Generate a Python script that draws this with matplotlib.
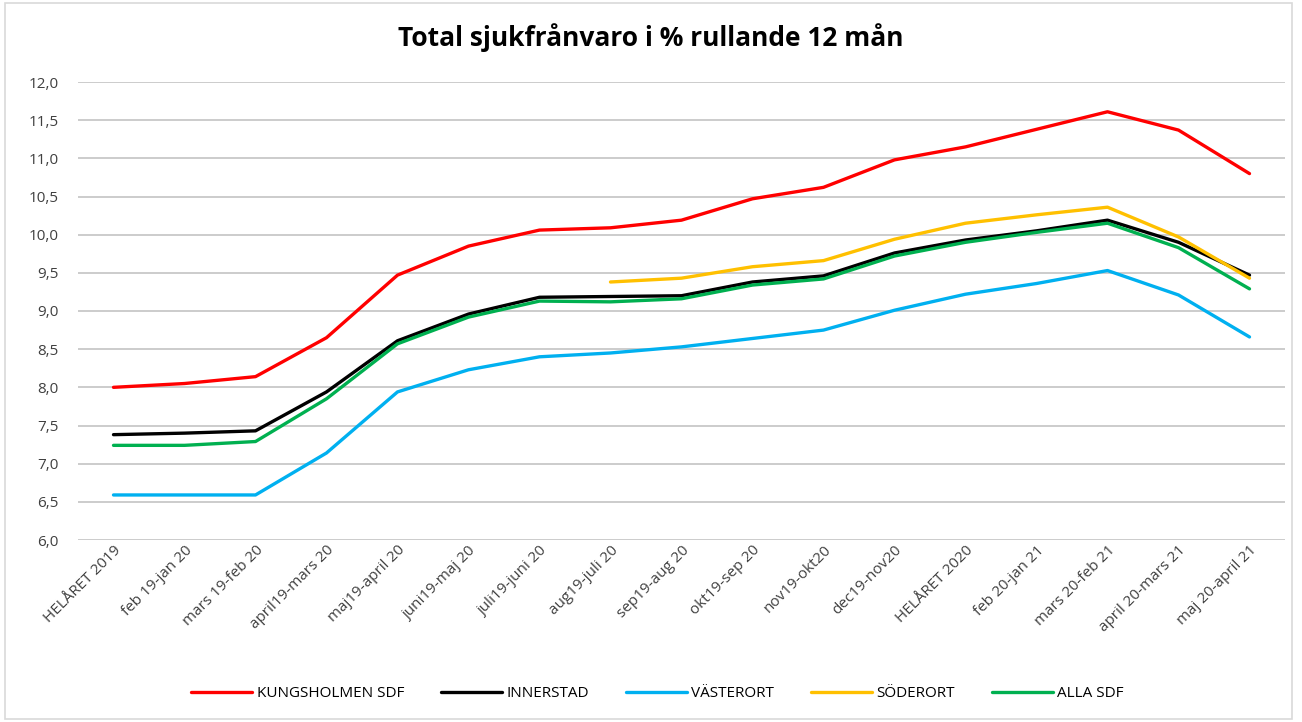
import matplotlib.pyplot as plt
import numpy as np
from matplotlib.ticker import FuncFormatter

plt.rcParams['font.family'] = ['Open Sans', 'DejaVu Sans']

# Categories (rolling 12 months)
categories = ["HELÅRET 2019", "feb 19-jan 20", "mars 19-feb 20", "april19-mars 20",
              "maj19-april 20", "juni19-maj 20", "juli19-juni 20", "aug19-juli 20",
              "sep19-aug 20", "okt19-sep 20", "nov19-okt20", "dec19-nov20",
              "HELÅRET 2020", "feb 20-jan 21", "mars 20-feb 21", "april 20-mars 21",
              "maj 20-april 21"]

kungsholmen = [8.00, 8.05, 8.14, 8.65, 9.47, 9.85, 10.06, 10.09, 10.19, 10.47,
               10.62, 10.98, 11.15, 11.38, 11.61, 11.37, 10.80]
innerstad = [7.38, 7.40, 7.43, 7.94, 8.61, 8.96, 9.18, 9.19, 9.20, 9.38,
             9.46, 9.76, 9.93, 10.05, 10.19, 9.90, 9.47]
vasterort = [6.59, 6.59, 6.59, 7.14, 7.94, 8.23, 8.40, 8.45, 8.53, 8.64,
             8.75, 9.01, 9.22, 9.36, 9.53, 9.21, 8.66]
soderort = [np.nan] * 7 + [9.38, 9.43, 9.58, 9.66, 9.94, 10.15, 10.26, 10.36, 9.97, 9.43]
alla_sdf = [7.24, 7.24, 7.29, 7.85, 8.57, 8.92, 9.13, 9.12, 9.16, 9.34,
            9.42, 9.72, 9.90, 10.03, 10.15, 9.83, 9.29]

series = [("KUNGSHOLMEN SDF", kungsholmen, "#FF0000"),
          ("INNERSTAD", innerstad, "#000000"),
          ("VÄSTERORT", vasterort, "#00B0F0"),
          ("SÖDERORT", soderort, "#FFC000"),
          ("ALLA SDF", alla_sdf, "#00B050")]

fig = plt.figure(figsize=(13.02, 7.22), dpi=100)
ax = fig.add_axes([78 / 1302, 1 - 540 / 722, 1207 / 1302, (540 - 82) / 722])

x = np.arange(len(categories))
for name, vals, col in series:
    ax.plot(x, vals, color=col, linewidth=2.4, label=name, solid_capstyle='round')

ax.set_xlim(-0.5, len(categories) - 0.5)
ax.set_ylim(6, 12)
ax.set_yticks(np.arange(6, 12.01, 0.5))
ax.yaxis.set_major_formatter(FuncFormatter(lambda v, p: f"{v:.1f}".replace(".", ",")))
ax.grid(axis='y', color='#bfbfbf', linewidth=1.1)
ax.set_axisbelow(True)
for s in ax.spines.values():
    s.set_visible(False)
ax.tick_params(axis='both', length=0, labelsize=11, colors='#404040')
ax.tick_params(axis='y', pad=14)
ax.set_xticks(x)
ax.set_xticklabels(categories, rotation=45, ha='right', rotation_mode='anchor')
ax.tick_params(axis='x', pad=2)

fig.suptitle("Total sjukfrånvaro i % rullande 12 mån", fontsize=19, fontweight='bold',
             y=0.968, x=0.5)

fig.legend(loc='lower center', ncol=5, bbox_to_anchor=(0.505, 0.01), frameon=False,
           fontsize=11, handlelength=4, columnspacing=2.4, handletextpad=0.3)

# light border around the chart
fig.patches.append(plt.Rectangle((0.004, 0.004), 0.988, 0.992, transform=fig.transFigure,
                                 fill=False, edgecolor='#d9d9d9', linewidth=1.2))

plt.savefig("out.png", dpi=100)
